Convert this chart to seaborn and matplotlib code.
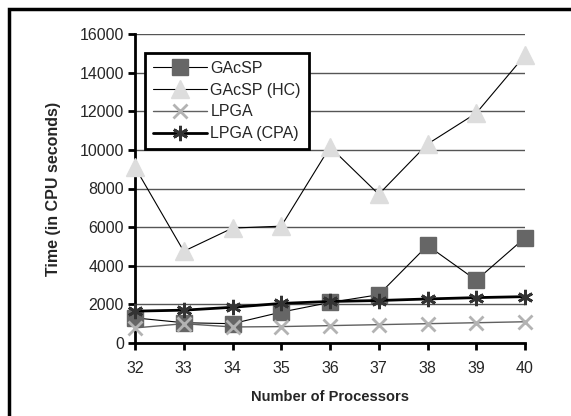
import matplotlib
matplotlib.use("Agg")
import matplotlib.pyplot as plt
import seaborn as sns
import pandas as pd
from matplotlib.patches import Rectangle

# ---------------- DATA ----------------
processors = [32, 33, 34, 35, 36, 37, 38, 39, 40]
gacsp = [1300, 1050, 1000, 1600, 2100, 2500, 5050, 3250, 5450]
gacsp_hc = [9100, 4750, 5950, 6050, 10150, 7700, 10300, 11900, 14900]
lpga = [780, 1000, 830, 850, 900, 950, 1000, 1050, 1100]
lpga_cpa = [1650, 1700, 1850, 2050, 2150, 2200, 2280, 2350, 2400]

series_names = ["GAcSP", "GAcSP (HC)", "LPGA", "LPGA (CPA)"]

df = pd.DataFrame({
    "Processors": processors * 4,
    "Time": gacsp + gacsp_hc + lpga + lpga_cpa,
    "Series": [n for n in series_names for _ in processors],
})

# ---------------- STYLE ----------------
sns.set_style("white")
plt.rcParams["font.family"] = ["Liberation Sans", "DejaVu Sans"]

styles = {
    "GAcSP": dict(color="black", lw=0.8, marker="s", ms=11, mfc="#666666", mec="#666666"),
    "GAcSP (HC)": dict(color="black", lw=0.8, marker="^", ms=12.5, mfc="#dddddd", mec="#dddddd"),
    "LPGA": dict(color="#606060", lw=1.0, marker="x", ms=10, mec="#b3b3b3", mew=2),
    "LPGA (CPA)": dict(color="black", lw=2.0, marker=(6, 2, 0), ms=11, mec="#333333", mew=2),
}

fig = plt.figure(figsize=(5.71, 4.16), dpi=100)
ax = fig.add_axes([135 / 571, 1 - 343 / 416, 390 / 571, 309 / 416])

for name in series_names:
    sub = df[df["Series"] == name]
    st = styles[name]
    sns.lineplot(data=sub, x="Processors", y="Time", ax=ax, label=name,
                 color=st["color"], linewidth=st["lw"], marker=st["marker"],
                 markersize=st["ms"], markerfacecolor=st.get("mfc", "none"),
                 markeredgecolor=st["mec"], markeredgewidth=st.get("mew", 1),
                 zorder=3, clip_on=False)

ax.set_xlim(32, 40)
ax.set_ylim(0, 16000)
ax.set_xticks(processors)
ax.set_yticks(range(0, 16001, 2000))
ax.yaxis.grid(True, color="#555555", linewidth=1.0)
ax.set_axisbelow(True)

for side in ["top", "right"]:
    ax.spines[side].set_visible(False)
for side in ["left", "bottom"]:
    ax.spines[side].set_color("black")
    ax.spines[side].set_linewidth(2)

ax.tick_params(axis="both", which="both", direction="out", length=5, width=2,
               color="black", labelsize=11.5, left=True, bottom=True)
ax.tick_params(axis="x", pad=8)
ax.tick_params(axis="y", pad=3)

ax.set_xlabel("Number of Processors", fontsize=10.5, fontweight="bold", labelpad=10)
ax.set_ylabel("Time (in CPU seconds)", fontsize=11.5, fontweight="bold", labelpad=13)

leg = ax.legend(loc="upper left", bbox_to_anchor=((145 - 135) / 390, (343 - 53) / 309),
                frameon=True, fancybox=False, fontsize=11.5, handlelength=3.4,
                handletextpad=0.2, labelspacing=0.42, borderpad=0.5,
                borderaxespad=0)
leg.get_frame().set_edgecolor("black")
leg.get_frame().set_linewidth(2)
leg.get_frame().set_alpha(1)

# outer chart border (only top/left visible in the crop)
fig.patches.append(Rectangle((8.5 / 571, -0.1), 1.2, 1 - 8.5 / 416 + 0.1,
                             transform=fig.transFigure, fill=False,
                             edgecolor="black", linewidth=2.5))

fig.savefig("out.png", dpi=100)
